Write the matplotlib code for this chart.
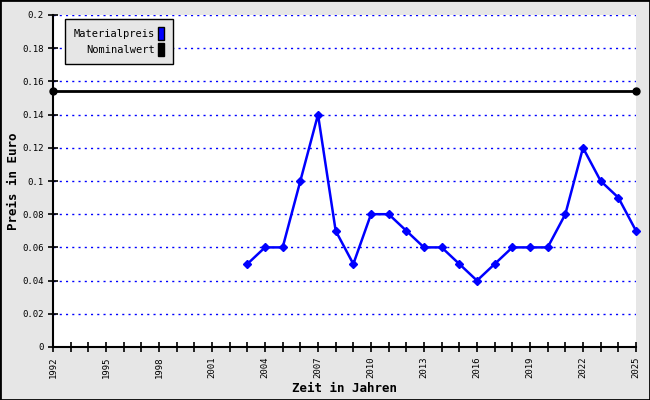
import matplotlib
matplotlib.use("Agg")
import matplotlib.pyplot as plt
from matplotlib.patches import Patch, Rectangle

years = list(range(2003, 2026))
materialpreis = [0.05, 0.06, 0.06, 0.10, 0.14, 0.07, 0.05, 0.08, 0.08, 0.07, 0.06, 0.06,
                 0.05, 0.04, 0.05, 0.06, 0.06, 0.06, 0.08, 0.12, 0.10, 0.09, 0.07]
nominal_years = [1992, 2025]
nominalwert = [0.154, 0.154]

plt.rcParams["font.family"] = "DejaVu Sans Mono"

fig = plt.figure(figsize=(6.5, 4), dpi=100, facecolor="#e6e6e6")
ax = fig.add_axes([53 / 650, 1 - 347 / 400, (636 - 53) / 650, (347 - 15) / 400])
ax.set_facecolor("white")
fig.patches.append(Rectangle((0, 0), 1, 1, transform=fig.transFigure, fill=False,
                             edgecolor="black", linewidth=2))

for yv in [0.02, 0.04, 0.06, 0.08, 0.10, 0.12, 0.14, 0.16, 0.18, 0.2]:
    ax.axhline(yv, color="blue", linestyle=(0, (1.5, 3)), linewidth=1, zorder=1)

ax.plot(nominal_years, nominalwert, color="black", linewidth=2, marker="o", markersize=5,
        zorder=3, clip_on=False)
ax.plot(years, materialpreis, color="blue", linewidth=1.8, marker="D", markersize=4,
        zorder=4, clip_on=False)

ax.set_xlim(1992, 2025)
ax.set_ylim(0, 0.2)
ax.set_xticks(range(1992, 2026))
ax.set_xticklabels([str(y) if (y - 1992) % 3 == 0 else "" for y in range(1992, 2026)],
                   rotation=90, fontsize=6.5)
ax.set_yticks([0, 0.02, 0.04, 0.06, 0.08, 0.10, 0.12, 0.14, 0.16, 0.18, 0.2])
ax.set_yticklabels(["0", "0.02", "0.04", "0.06", "0.08", "0.1", "0.12", "0.14", "0.16",
                    "0.18", "0.2"], fontsize=6.5)
ax.tick_params(direction="inout", length=7, width=1.2, colors="black", pad=3)

for s in ["top", "right"]:
    ax.spines[s].set_visible(False)
for s in ["left", "bottom"]:
    ax.spines[s].set_linewidth(1.5)

ax.set_xlabel("Zeit in Jahren", fontsize=9, fontweight="bold", labelpad=3)
ax.set_ylabel("Preis in Euro", fontsize=9, fontweight="bold", labelpad=2)

handles = [Patch(facecolor="blue", edgecolor="black"), Patch(facecolor="black", edgecolor="black")]
leg = ax.legend(handles, ["Materialpreis", "Nominalwert"], loc="upper left",
                bbox_to_anchor=(12 / 583, 1 - 4 / 332), borderaxespad=0,
                markerfirst=False, fontsize=7.5,
                fancybox=False, framealpha=1, facecolor="#e6e6e6", edgecolor="black",
                handlelength=0.65, handleheight=1.55, handletextpad=0.3, labelspacing=0.25,
                borderpad=0.8)
for t in leg.get_texts():
    t.set_ha("right")
leg.get_frame().set_linewidth(1)

fig.savefig("out.png", dpi=100, facecolor=fig.get_facecolor())
